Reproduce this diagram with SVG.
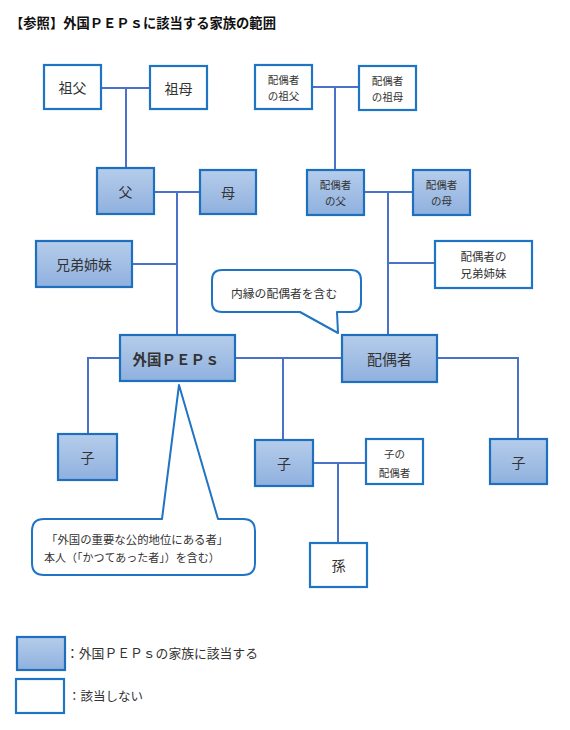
<svg xmlns="http://www.w3.org/2000/svg" width="570" height="730" viewBox="0 0 570 730">
<defs>
<linearGradient id="blueFill" x1="0" y1="0" x2="0" y2="1">
<stop offset="0" stop-color="#b6cdeb"/>
<stop offset="1" stop-color="#8fb0de"/>
</linearGradient>
<style>
.t{font-family:"Noto Sans CJK JP","Noto Sans",sans-serif;fill:#333;text-anchor:middle;dominant-baseline:central}
.lt{font-family:"Noto Sans CJK JP","Noto Sans",sans-serif;fill:#333;dominant-baseline:central}
.f{fill:url(#blueFill);stroke:#1f6fbf;stroke-width:2.2}
.w{fill:#fff;stroke:#1f74c4;stroke-width:2.2}
.c{fill:none;stroke:#4a72c8;stroke-width:2}
.co{fill:#fff;stroke:#1f74c4;stroke-width:2;stroke-linejoin:round}
</style>
</defs>
<rect width="570" height="730" fill="#fff"/>
<text x="10" y="22" style="font-family:'Noto Sans CJK JP',sans-serif;font-weight:bold;font-size:13.3px;fill:#111;dominant-baseline:central">【参照】外国ＰＥＰｓに該当する家族の範囲</text>

<g id="connectors">
<path class="c" d="M101,88 H150 M126,88 V168"/>
<path class="c" d="M154,192 H200 M177,192 V335"/>
<path class="c" d="M132,264 H177"/>
<path class="c" d="M312,87 H359 M335,87 V170"/>
<path class="c" d="M364,192 H413 M388,192 V335"/>
<path class="c" d="M388,263 H435"/>
<path class="c" d="M120,358 H88 V434"/>
<path class="c" d="M235,358 H342"/>
<path class="c" d="M283,358 V440"/>
<path class="c" d="M437,358 H518 V439"/>
<path class="c" d="M313,463 H366 M338,463 V543"/>
</g>

<g id="sofu"><rect class="w" x="44" y="65" width="57" height="44"/><text class="t" x="72.5" y="87" font-size="14">祖父</text></g>
<g id="sobo"><rect class="w" x="150" y="66" width="57" height="43"/><text class="t" x="178.5" y="87.5" font-size="14">祖母</text></g>
<g id="chichi"><rect class="f" x="97" y="168" width="57" height="46"/><text class="t" x="125.5" y="191" font-size="14">父</text></g>
<g id="haha"><rect class="f" x="200" y="170" width="56" height="44"/><text class="t" x="228" y="192" font-size="14">母</text></g>
<g id="kyodai"><rect class="f" x="36" y="241" width="96" height="46"/><text class="t" x="84" y="264" font-size="14">兄弟姉妹</text></g>
<g id="peps"><rect class="f" x="120" y="335" width="115" height="46"/><text class="t" x="176" y="358" font-size="14.5" font-weight="bold" fill="#111">外国ＰＥＰｓ</text></g>
<g id="ko1"><rect class="f" x="58" y="434" width="59" height="46"/><text class="t" x="87.5" y="457" font-size="14">子</text></g>
<g id="ko2"><rect class="f" x="255" y="440" width="58" height="46"/><text class="t" x="284" y="463" font-size="14">子</text></g>
<g id="ko-haiguusha"><rect class="w" x="366" y="439" width="57" height="45"/><text class="t" x="394.5" y="453" font-size="10.5">子の</text><text class="t" x="394.5" y="472" font-size="10.5">配偶者</text></g>
<g id="mago"><rect class="w" x="310" y="543" width="57" height="44"/><text class="t" x="338.5" y="565" font-size="14">孫</text></g>
<g id="ko3"><rect class="f" x="490" y="439" width="57" height="45"/><text class="t" x="518.5" y="461.5" font-size="14">子</text></g>
<g id="haiguusha-sofu"><rect class="w" x="255" y="65" width="57" height="44"/><text class="t" x="283.5" y="79.5" font-size="10.5">配偶者</text><text class="t" x="283.5" y="95" font-size="10.5">の祖父</text></g>
<g id="haiguusha-sobo"><rect class="w" x="359" y="66" width="57" height="44"/><text class="t" x="387.5" y="80.5" font-size="10.5">配偶者</text><text class="t" x="387.5" y="96" font-size="10.5">の祖母</text></g>
<g id="haiguusha-chichi"><rect class="f" x="307" y="170" width="57" height="45"/><text class="t" x="335.5" y="184.5" font-size="10.5">配偶者</text><text class="t" x="335.5" y="200" font-size="10.5">の父</text></g>
<g id="haiguusha-haha"><rect class="f" x="413" y="170" width="57" height="45"/><text class="t" x="441.5" y="184.5" font-size="10.5">配偶者</text><text class="t" x="441.5" y="200" font-size="10.5">の母</text></g>
<g id="haiguusha-kyodai"><rect class="w" x="435" y="241" width="97" height="47"/><text class="t" x="483.5" y="256" font-size="11.5">配偶者の</text><text class="t" x="483.5" y="273" font-size="11.5">兄弟姉妹</text></g>
<g id="haiguusha"><rect class="f" x="342" y="335" width="95" height="47"/><text class="t" x="389.5" y="358.5" font-size="15">配偶者</text></g>

<g id="callout-naien">
<path class="co" d="M222,270 H351 Q361,270 361,280 V302 Q361,312 351,312 H337 L338,333 L300,312 H222 Q212,312 212,302 V280 Q212,270 222,270 Z"/>
<text class="lt" x="231" y="292" font-size="11.8">内縁の配偶者を含む</text>
</g>
<g id="callout-honnin">
<path class="co" d="M44,519 H162 L179,385 L218,519 H243 Q255,519 255,531 V563 Q255,575 243,575 H44 Q32,575 32,563 V531 Q32,519 44,519 Z"/>
<text class="lt" x="46" y="539" font-size="11.4">「外国の重要な公的地位にある者」</text>
<text class="lt" x="44" y="557" font-size="11">本人（「かつてあった者」）を含む）</text>
</g>

<g id="legend">
<rect class="f" x="17" y="637" width="48" height="33"/>
<text class="lt" x="66" y="652" font-size="12.8">：外国ＰＥＰｓの家族に該当する</text>
<rect class="w" x="16" y="679" width="48" height="34"/>
<text class="lt" x="68" y="695" font-size="12.5">：該当しない</text>
</g>
</svg>
